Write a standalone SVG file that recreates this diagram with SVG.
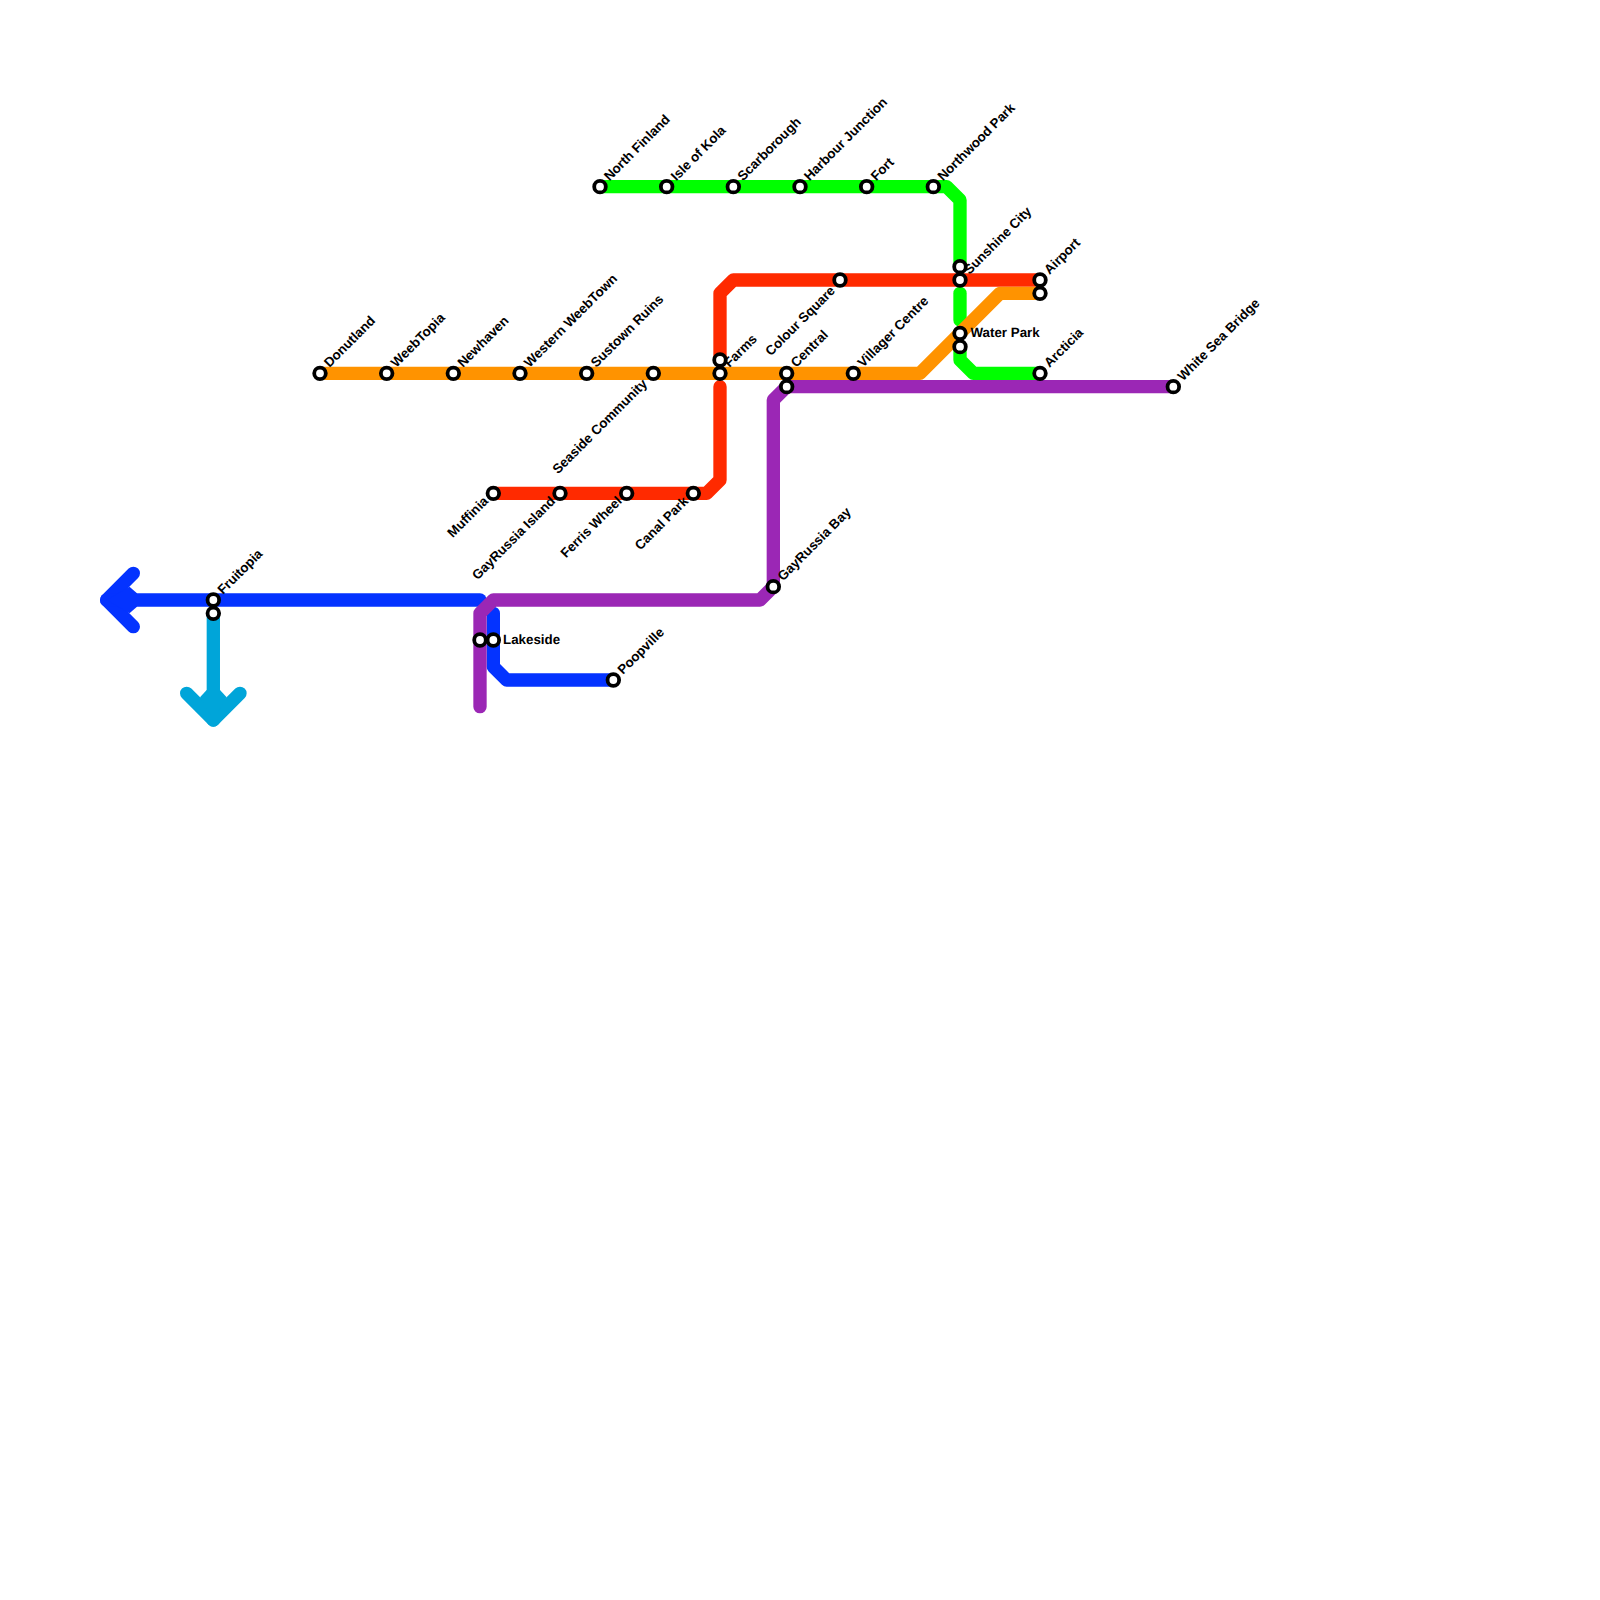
<svg xmlns="http://www.w3.org/2000/svg" width="1600" height="1600" viewBox="0 0 1600 1600">
<style>
.l{fill:none;stroke-width:13.33;stroke-linecap:round;stroke-linejoin:round}
.s{fill:#fff;stroke:#000;stroke-width:3.8}
text{font-family:"Liberation Sans",Arial,sans-serif;font-weight:bold;font-size:13.33px;fill:#000;text-rendering:geometricPrecision}
.e{text-anchor:end}
</style>
<rect width="1600" height="1600" fill="#fff"/>
<g id="connectors">
<polyline class="l" stroke="#0433ff" points="133.33,573.33 106.67,600 133.33,626.67"/>
<polyline class="l" stroke="#0433ff" points="106.67,600 480,600"/>
<polygon fill="#0433ff" points="106.67,600 129.47,586.67 137,593.33 137,606.67 129.47,613.33"/>
<polyline class="l" stroke="#0433ff" points="493.33,613.33 493.33,666.67 506.67,680 613.33,680"/>
<polyline class="l" stroke="#00a5d9" points="213.33,613.33 213.33,720"/>
<polyline class="l" stroke="#00a5d9" points="186.67,693.33 213.33,720 240,693.33"/>
<polygon fill="#00a5d9" points="213.33,720 200,697.2 206.67,690 220,690 226.67,697.2"/>
<polyline class="l" stroke="#00ff00" points="600,186.67 946.67,186.67 960,200 960,266.67"/>
<polyline class="l" stroke="#00ff00" points="960,293.33 960,320"/>
<polyline class="l" stroke="#00ff00" points="960,346.67 960,360 973.33,373.33 1040,373.33"/>
<polyline class="l" stroke="#ff2a00" points="493.33,493.33 706.67,493.33 720,480 720,386.67"/>
<polyline class="l" stroke="#ff2a00" points="720,360 720,293.33 733.33,280 1040,280"/>
<polyline class="l" stroke="#ff9300" points="320,373.33 920,373.33 1000,293.33 1040,293.33"/>
<polyline class="l" stroke="#9b27b5" points="480,706.67 480,613.33 493.33,600 760,600 773.33,586.67 773.33,400 786.67,386.67 1173.33,386.67"/>
</g>
<g id="fruitopia"><circle class="s" cx="213.33" cy="600" r="5.8"/><circle class="s" cx="213.33" cy="613.33" r="5.8"/><text transform="translate(223 595) rotate(-45)">Fruitopia</text></g>
<g id="donutland"><circle class="s" cx="320" cy="373.33" r="5.8"/><text transform="translate(329.5 368) rotate(-45)">Donutland</text></g>
<g id="weebtopia"><circle class="s" cx="386.67" cy="373.33" r="5.8"/><text transform="translate(396.3 368) rotate(-45)">WeebTopia</text></g>
<g id="newhaven"><circle class="s" cx="453.33" cy="373.33" r="5.8"/><text transform="translate(463 368) rotate(-45)">Newhaven</text></g>
<g id="western-webtown"><circle class="s" cx="520" cy="373.33" r="5.8"/><text transform="translate(529.5 368) rotate(-45)">Western WeebTown</text></g>
<g id="sustown-ruins"><circle class="s" cx="586.67" cy="373.33" r="5.8"/><text transform="translate(596.3 368) rotate(-45)">Sustown Ruins</text></g>
<g id="seaside-community"><circle class="s" cx="653.33" cy="373.33" r="5.8"/><text class="e" transform="translate(648 384.5) rotate(-45)">Seaside Community</text></g>
<g id="farms"><circle class="s" cx="720" cy="360" r="5.8"/><circle class="s" cx="720" cy="373.33" r="5.8"/><text transform="translate(729.5 368) rotate(-45)">Farms</text></g>
<g id="central"><circle class="s" cx="786.67" cy="373.33" r="5.8"/><circle class="s" cx="786.67" cy="386.67" r="5.8"/><text transform="translate(796.3 368) rotate(-45)">Central</text></g>
<g id="villager-centre"><circle class="s" cx="853.33" cy="373.33" r="5.8"/><text transform="translate(863 368) rotate(-45)">Villager Centre</text></g>
<g id="colour-square"><circle class="s" cx="840" cy="280" r="5.8"/><text class="e" transform="translate(835.8 291.5) rotate(-45)">Colour Square</text></g>
<g id="north-finland"><circle class="s" cx="600" cy="186.67" r="5.8"/><text transform="translate(609.5 181.5) rotate(-45)">North Finland</text></g>
<g id="isle-of-kola"><circle class="s" cx="666.67" cy="186.67" r="5.8"/><text transform="translate(676.3 181.5) rotate(-45)">Isle of Kola</text></g>
<g id="scarborough"><circle class="s" cx="733.33" cy="186.67" r="5.8"/><text transform="translate(743 181.5) rotate(-45)">Scarborough</text></g>
<g id="harbour-junction"><circle class="s" cx="800" cy="186.67" r="5.8"/><text transform="translate(809.5 181.5) rotate(-45)">Harbour Junction</text></g>
<g id="fort"><circle class="s" cx="866.67" cy="186.67" r="5.8"/><text transform="translate(876.3 181.5) rotate(-45)">Fort</text></g>
<g id="northwood-park"><circle class="s" cx="933.33" cy="186.67" r="5.8"/><text transform="translate(943 181.5) rotate(-45)">Northwood Park</text></g>
<g id="sunshine-city"><circle class="s" cx="960" cy="266.67" r="5.8"/><circle class="s" cx="960" cy="280" r="5.8"/><text transform="translate(969.5 275) rotate(-45)">Sunshine City</text></g>
<g id="airport"><circle class="s" cx="1040" cy="280" r="5.8"/><circle class="s" cx="1040" cy="293.33" r="5.8"/><text transform="translate(1049.5 275) rotate(-45)">Airport</text></g>
<g id="water-park"><circle class="s" cx="960" cy="333.33" r="5.8"/><circle class="s" cx="960" cy="346.67" r="5.8"/><text x="970.5" y="337">Water Park</text></g>
<g id="arcticia"><circle class="s" cx="1040" cy="373.33" r="5.8"/><text transform="translate(1049.5 368) rotate(-45)">Arcticia</text></g>
<g id="white-sea-bridge"><circle class="s" cx="1173.33" cy="386.67" r="5.8"/><text transform="translate(1183 381.5) rotate(-45)">White Sea Bridge</text></g>
<g id="muffinia"><circle class="s" cx="493.33" cy="493.33" r="5.8"/><text class="e" transform="translate(489 502) rotate(-45)">Muffinia</text></g>
<g id="gayrussia-island"><circle class="s" cx="560" cy="493.33" r="5.8"/><text class="e" transform="translate(556 502) rotate(-45)">GayRussia Island</text></g>
<g id="ferris-wheel"><circle class="s" cx="626.67" cy="493.33" r="5.8"/><text class="e" transform="translate(622.5 502) rotate(-45)">Ferris Wheel</text></g>
<g id="canal-park"><circle class="s" cx="693.33" cy="493.33" r="5.8"/><text class="e" transform="translate(689 502) rotate(-45)">Canal Park</text></g>
<g id="gayrussia-bay"><circle class="s" cx="773.33" cy="586.67" r="5.8"/><text transform="translate(783 581.5) rotate(-45)">GayRussia Bay</text></g>
<g id="lakeside"><circle class="s" cx="480" cy="640" r="5.8"/><circle class="s" cx="493.33" cy="640" r="5.8"/><text x="503" y="644">Lakeside</text></g>
<g id="poopville"><circle class="s" cx="613.33" cy="680" r="5.8"/><text transform="translate(623 675) rotate(-45)">Poopville</text></g>
</svg>
